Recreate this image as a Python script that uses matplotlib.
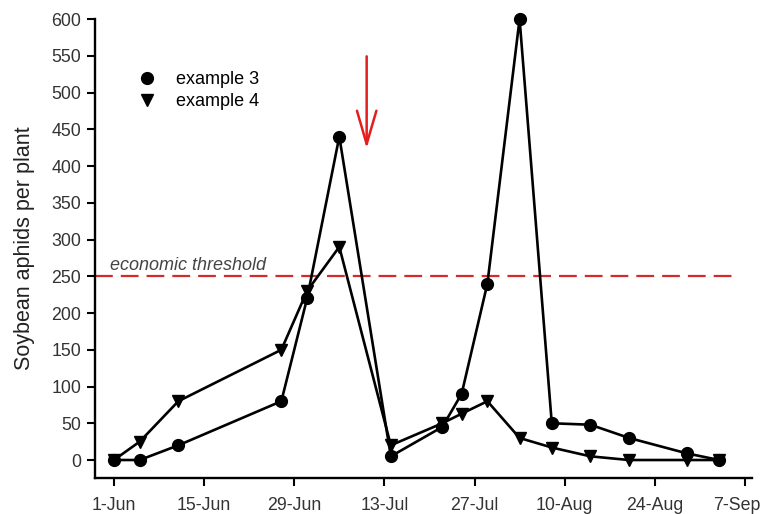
import numpy as np
import pandas as pd
import matplotlib
matplotlib.use("Agg")
import matplotlib.pyplot as plt
import matplotlib.dates as mdates
import matplotlib.transforms as mtransforms

plt.rcParams['font.family'] = ['Liberation Sans', 'DejaVu Sans']

# example 3 (circles)
ex3_dates = ['2015-06-01', '2015-06-05', '2015-06-11', '2015-06-27', '2015-07-01',
             '2015-07-06', '2015-07-14', '2015-07-22', '2015-07-25', '2015-07-29',
             '2015-08-03', '2015-08-08', '2015-08-14', '2015-08-20', '2015-08-29',
             '2015-09-03']
ex3_vals = [0, 0, 20, 80, 220, 440, 5, 45, 90, 240, 600, 50, 48, 30, 9, 0]

# example 4 (triangles)
ex4_dates = ['2015-06-01', '2015-06-05', '2015-06-11', '2015-06-27', '2015-07-01',
             '2015-07-06', '2015-07-14', '2015-07-22', '2015-07-25', '2015-07-29',
             '2015-08-03', '2015-08-08', '2015-08-14', '2015-08-20', '2015-08-29',
             '2015-09-03']
ex4_vals = [0, 25, 80, 150, 230, 290, 20, 50, 63, 80, 30, 17, 5, 0, 0, 0]

threshold = 250
arrow_date = '2015-07-10 06:00'
tick_dates = pd.date_range('2015-06-01', '2015-09-07', freq='14D')

fig = plt.figure(figsize=(7.64, 5.14), dpi=100)
ax = fig.add_axes([0.1243, 0.070, 0.8600, 0.893])

d3 = pd.to_datetime(ex3_dates)
d4 = pd.to_datetime(ex4_dates)

ax.plot(d3, ex3_vals, color='black', lw=1.9, marker='o', ms=8.5, label='example 3',
        zorder=3, clip_on=False)
ax.plot(d4, ex4_vals, color='black', lw=1.9, marker='v', ms=8.5, label='example 4',
        zorder=3, clip_on=False)

x0 = mdates.date2num(pd.Timestamp('2015-06-01'))
ax.set_xlim(x0 - 2.95, x0 + 99.1)
ax.set_ylim(-24.5, 600)

# threshold
ax.plot([x0 - 2.95, x0 + 96.4], [threshold, threshold], color='#d42a2a', lw=1.6,
        dashes=(8, 3.6), zorder=2)
ax.text(x0 - 0.6, threshold + 3, 'economic threshold', style='italic', color='#444444',
        fontsize=13, va='bottom', ha='left')

# arrow
xa = mdates.date2num(pd.Timestamp(arrow_date))
ax.annotate('', xy=(xa, 420), xytext=(xa, 553),
            arrowprops=dict(arrowstyle='->,head_length=2.4,head_width=0.7',
                            color='#e31e1e', lw=1.8))

ax.set_xticks(tick_dates)
ax.set_xticklabels([f"{d.day}-{d:%b}" for d in tick_dates])
ax.set_yticks(np.arange(0, 601, 50))

for s in ['top', 'right']:
    ax.spines[s].set_visible(False)
for s in ['left', 'bottom']:
    ax.spines[s].set_linewidth(1.7)
ax.tick_params(direction='out', length=6, width=1.5, labelsize=12.8, colors='black',
               labelcolor='#333333', pad=4)
ax.tick_params(axis='x', pad=8)
ax.set_ylabel('Soybean aphids per plant', fontsize=15.5, labelpad=12, color='#222222')

# last date label sits a little left of its tick, as in the original
last = ax.get_xticklabels()[-1]
last.set_transform(last.get_transform() +
                   mtransforms.ScaledTranslation(-6 / 72, 0, fig.dpi_scale_trans))

ax.legend(loc='upper left', bbox_to_anchor=(0.054, 0.922), frameon=False, fontsize=13,
          handlelength=0, handletextpad=1.65, labelspacing=0.28)

fig.savefig('out.png', dpi=100)
